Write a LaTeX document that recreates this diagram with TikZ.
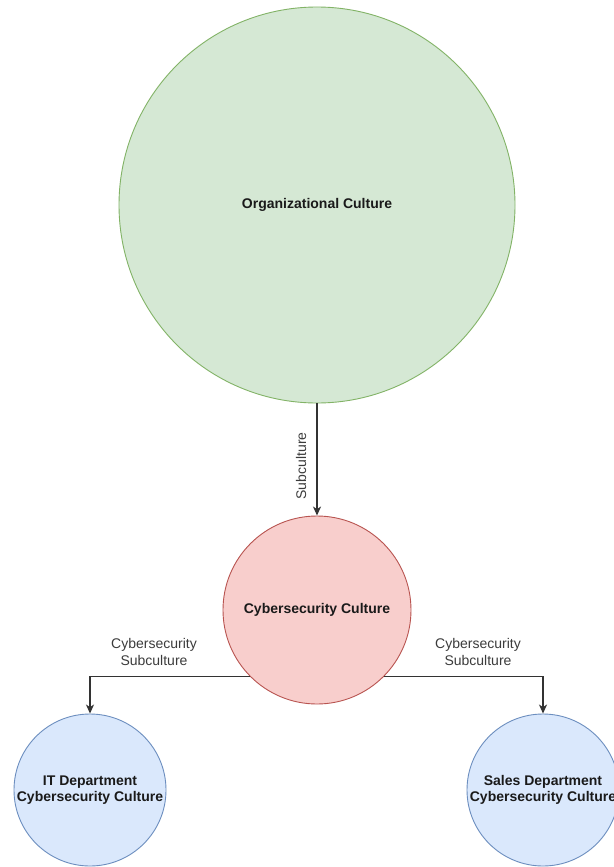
\documentclass[tikz,border=0pt]{standalone}
\usepackage{fontspec}
\setmainfont{Liberation Sans}
\usetikzlibrary{arrows.meta}
\definecolor{greenfill}{HTML}{D5E8D4}
\definecolor{greenline}{HTML}{82B366}
\definecolor{redfill}{HTML}{F8CECC}
\definecolor{redline}{HTML}{B85450}
\definecolor{bluefill}{HTML}{DAE8FC}
\definecolor{blueline}{HTML}{6C8EBF}
\definecolor{edgecol}{HTML}{333333}
\definecolor{txt}{HTML}{1A1A1A}
\tikzset{
  bubble/.style={circle, inner sep=0pt, line width=0.9pt, align=center,
    text=txt, font=\fontsize{14}{16.5}\selectfont\bfseries},
  orgc/.style={bubble, fill=greenfill, draw=greenline, minimum size=396pt},
  cybc/.style={bubble, fill=redfill, draw=redline, minimum size=188pt},
  deptc/.style={bubble, fill=bluefill, draw=blueline, minimum size=152pt},
  conn/.style={draw=edgecol, line width=1.1pt,
    -{Stealth[length=9pt, width=8pt, inset=2.5pt]}},
  lbl/.style={align=center, text=txt!85, inner sep=0pt,
    font=\fontsize{14}{17}\selectfont}
}
\begin{document}
\begin{tikzpicture}[x=1pt, y=-1pt]
  \useasboundingbox (0,0) rectangle (613,867);
  \fill[white] (0,0) rectangle (613,867);

  % circles
  \node[orgc]  (org)   at (317,205) {Organizational Culture};
  \node[cybc]  (cyb)   at (317,610) {Cybersecurity Culture};
  \node[deptc] (it)    at (90,790)  {IT Department\\Cybersecurity Culture};
  \node[deptc] (sales) at (543,790) {Sales Department\\Cybersecurity Culture};

  % connectors
  \draw[conn] (org) -- (cyb);
  \draw[conn] (cyb.225) -| (it.north);
  \draw[conn] (cyb.-45) -| (sales.north);

  % connector labels
  \node[lbl, rotate=90] (subl) at (301,466) {Subculture};
  \node[lbl] (itl)    at (154,652) {Cybersecurity\\Subculture};
  \node[lbl] (salesl) at (478,652) {Cybersecurity\\Subculture};
\end{tikzpicture}
\end{document}
